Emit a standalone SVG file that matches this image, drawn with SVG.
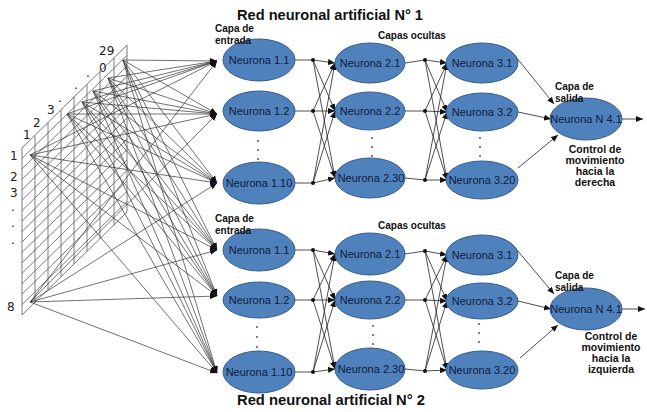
<svg xmlns="http://www.w3.org/2000/svg" width="647" height="412" viewBox="0 0 647 412">
<style>
.bg{fill:#ffffff}
.grid line{stroke:#5a5a5a;stroke-width:0.8}
.in{stroke:#333;stroke-width:0.7;fill:none}
.c{stroke:#222;stroke-width:0.8;fill:none}
.node ellipse{fill:#4F81BD;stroke:#385D8A;stroke-width:1}
.lbl{font-family:"Liberation Sans",Arial,sans-serif;font-size:11px;fill:#0f1c3a;text-anchor:middle}
.title{font-family:"Liberation Sans",Arial,sans-serif;font-size:14px;font-weight:bold;fill:#111}
.cap{font-family:"Liberation Sans",Arial,sans-serif;font-size:10px;font-weight:bold;fill:#111}
.ctl{font-family:"Liberation Sans",Arial,sans-serif;font-size:10.5px;font-weight:bold;fill:#111;text-anchor:middle}
.num{font-family:"DejaVu Sans",sans-serif;font-size:12px;fill:#222}
.dot{fill:#111}
.vd{fill:#444}
</style>
<defs>
<marker id="ah" markerUnits="userSpaceOnUse" markerWidth="7" markerHeight="6" refX="7" refY="3" orient="auto">
<path d="M0,0 L7,3 L0,6 z" fill="#111"/>
</marker>
</defs>
<rect class="bg" x="0" y="0" width="647" height="412"/>

<g id="input-grid" class="grid">
<line x1="22" y1="148" x2="22" y2="315"/>
<line x1="35" y1="135.3" x2="35" y2="302.3"/>
<line x1="48" y1="122.5" x2="48" y2="289.5"/>
<line x1="61" y1="109.8" x2="61" y2="276.8"/>
<line x1="74" y1="97" x2="74" y2="264"/>
<line x1="87" y1="84.3" x2="87" y2="251.3"/>
<line x1="100" y1="71.6" x2="100" y2="238.6"/>
<line x1="114" y1="57.8" x2="114" y2="224.8"/>
<line x1="127" y1="45.1" x2="127" y2="212.1"/>
<line x1="22" y1="148" x2="127" y2="45.1"/>
<line x1="22" y1="158.4" x2="127" y2="55.5"/>
<line x1="22" y1="168.9" x2="127" y2="66"/>
<line x1="22" y1="179.3" x2="127" y2="76.4"/>
<line x1="22" y1="189.8" x2="127" y2="86.9"/>
<line x1="22" y1="200.2" x2="127" y2="97.3"/>
<line x1="22" y1="210.6" x2="127" y2="107.7"/>
<line x1="22" y1="221.1" x2="127" y2="118.2"/>
<line x1="22" y1="231.5" x2="127" y2="128.6"/>
<line x1="22" y1="242" x2="127" y2="139.1"/>
<line x1="22" y1="252.4" x2="127" y2="149.5"/>
<line x1="22" y1="262.8" x2="127" y2="159.9"/>
<line x1="22" y1="273.3" x2="127" y2="170.4"/>
<line x1="22" y1="283.7" x2="127" y2="180.8"/>
<line x1="22" y1="294.2" x2="127" y2="191.3"/>
<line x1="22" y1="304.6" x2="127" y2="201.7"/>
<line x1="22" y1="315" x2="127" y2="212.1"/>
</g>

<g id="input-labels">
<text class="num" x="23" y="139">1</text>
<text class="num" x="33" y="127">2</text>
<text class="num" x="47" y="114">3</text>
<text class="num" x="58" y="102">.</text>
<text class="num" x="74" y="89">.</text>
<text class="num" x="86" y="77">.</text>
<text class="num" x="99" y="55">29</text>
<text class="num" x="99" y="72">0</text>
<text class="num" x="10" y="160">1</text>
<text class="num" x="10" y="181">2</text>
<text class="num" x="10" y="197">3</text>
<text class="num" x="11" y="211">.</text>
<text class="num" x="11" y="227">.</text>
<text class="num" x="11" y="244">.</text>
<text class="num" x="7" y="311">8</text>
</g>

<g id="connectors">
<g marker-end="url(#ah)">
<line class="in" x1="30" y1="155" x2="217" y2="61"/>
<line class="in" x1="30" y1="155" x2="217" y2="114"/>
<line class="in" x1="30" y1="155" x2="217" y2="183"/>
<line class="in" x1="30" y1="155" x2="217" y2="250"/>
<line class="in" x1="30" y1="155" x2="217" y2="296"/>
<line class="in" x1="30" y1="155" x2="217" y2="373"/>
<line class="in" x1="30" y1="302" x2="217" y2="61"/>
<line class="in" x1="30" y1="302" x2="217" y2="114"/>
<line class="in" x1="30" y1="302" x2="217" y2="183"/>
<line class="in" x1="30" y1="302" x2="217" y2="250"/>
<line class="in" x1="30" y1="302" x2="217" y2="296"/>
<line class="in" x1="30" y1="302" x2="217" y2="373"/>
<line class="in" x1="67" y1="114" x2="217" y2="61"/>
<line class="in" x1="67" y1="114" x2="217" y2="114"/>
<line class="in" x1="67" y1="114" x2="217" y2="183"/>
<line class="in" x1="67" y1="114" x2="217" y2="250"/>
<line class="in" x1="67" y1="114" x2="217" y2="296"/>
<line class="in" x1="67" y1="114" x2="217" y2="373"/>
<line class="in" x1="82" y1="102" x2="217" y2="61"/>
<line class="in" x1="82" y1="102" x2="217" y2="114"/>
<line class="in" x1="82" y1="102" x2="217" y2="183"/>
<line class="in" x1="82" y1="102" x2="217" y2="250"/>
<line class="in" x1="82" y1="102" x2="217" y2="296"/>
<line class="in" x1="82" y1="102" x2="217" y2="373"/>
<line class="in" x1="93" y1="91" x2="217" y2="61"/>
<line class="in" x1="93" y1="91" x2="217" y2="114"/>
<line class="in" x1="93" y1="91" x2="217" y2="183"/>
<line class="in" x1="93" y1="91" x2="217" y2="250"/>
<line class="in" x1="93" y1="91" x2="217" y2="296"/>
<line class="in" x1="93" y1="91" x2="217" y2="373"/>
<line class="in" x1="108" y1="78" x2="217" y2="61"/>
<line class="in" x1="108" y1="78" x2="217" y2="114"/>
<line class="in" x1="108" y1="78" x2="217" y2="183"/>
<line class="in" x1="108" y1="78" x2="217" y2="250"/>
<line class="in" x1="108" y1="78" x2="217" y2="296"/>
<line class="in" x1="108" y1="78" x2="217" y2="373"/>
<line class="in" x1="123" y1="60" x2="217" y2="61"/>
<line class="in" x1="123" y1="60" x2="217" y2="114"/>
<line class="in" x1="123" y1="60" x2="217" y2="183"/>
<line class="in" x1="123" y1="60" x2="217" y2="250"/>
<line class="in" x1="123" y1="60" x2="217" y2="296"/>
<line class="in" x1="123" y1="60" x2="217" y2="373"/>
</g>

<line class="c" x1="295" y1="60" x2="313" y2="60"/>
<line class="c" x1="295" y1="111" x2="313" y2="111"/>
<line class="c" x1="295" y1="183" x2="313" y2="183"/>
<g marker-end="url(#ah)">
<line class="c" x1="313" y1="60" x2="335" y2="63"/>
<line class="c" x1="313" y1="60" x2="335" y2="111"/>
<line class="c" x1="313" y1="60" x2="335" y2="178"/>
<line class="c" x1="313" y1="111" x2="335" y2="63"/>
<line class="c" x1="313" y1="111" x2="335" y2="111"/>
<line class="c" x1="313" y1="111" x2="335" y2="178"/>
<line class="c" x1="313" y1="183" x2="335" y2="63"/>
<line class="c" x1="313" y1="183" x2="335" y2="111"/>
<line class="c" x1="313" y1="183" x2="335" y2="178"/>
</g>
<line class="c" x1="405" y1="63" x2="425" y2="60"/>
<line class="c" x1="405" y1="111" x2="425" y2="111"/>
<line class="c" x1="405" y1="178" x2="425" y2="180"/>
<g marker-end="url(#ah)">
<line class="c" x1="425" y1="60" x2="447" y2="63"/>
<line class="c" x1="425" y1="60" x2="447" y2="112"/>
<line class="c" x1="425" y1="60" x2="447" y2="180"/>
<line class="c" x1="425" y1="111" x2="447" y2="63"/>
<line class="c" x1="425" y1="111" x2="447" y2="112"/>
<line class="c" x1="425" y1="111" x2="447" y2="180"/>
<line class="c" x1="425" y1="180" x2="447" y2="63"/>
<line class="c" x1="425" y1="180" x2="447" y2="112"/>
<line class="c" x1="425" y1="180" x2="447" y2="180"/>
</g>
<g marker-end="url(#ah)">
<line class="c" x1="512" y1="52" x2="554" y2="104"/>
<line class="c" x1="518" y1="112" x2="551" y2="119"/>
<line class="c" x1="518" y1="168" x2="558" y2="135"/>
<line class="c" x1="622" y1="119" x2="643" y2="119"/>
</g>

<line class="c" x1="295" y1="250" x2="313" y2="250"/>
<line class="c" x1="295" y1="300" x2="313" y2="300"/>
<line class="c" x1="295" y1="372" x2="313" y2="372"/>
<g marker-end="url(#ah)">
<line class="c" x1="313" y1="250" x2="335" y2="254"/>
<line class="c" x1="313" y1="250" x2="335" y2="300"/>
<line class="c" x1="313" y1="250" x2="335" y2="369"/>
<line class="c" x1="313" y1="300" x2="335" y2="254"/>
<line class="c" x1="313" y1="300" x2="335" y2="300"/>
<line class="c" x1="313" y1="300" x2="335" y2="369"/>
<line class="c" x1="313" y1="372" x2="335" y2="254"/>
<line class="c" x1="313" y1="372" x2="335" y2="300"/>
<line class="c" x1="313" y1="372" x2="335" y2="369"/>
</g>
<line class="c" x1="405" y1="254" x2="425" y2="251"/>
<line class="c" x1="405" y1="300" x2="425" y2="300"/>
<line class="c" x1="405" y1="369" x2="425" y2="371"/>
<g marker-end="url(#ah)">
<line class="c" x1="425" y1="251" x2="447" y2="255"/>
<line class="c" x1="425" y1="251" x2="447" y2="301"/>
<line class="c" x1="425" y1="251" x2="447" y2="370"/>
<line class="c" x1="425" y1="300" x2="447" y2="255"/>
<line class="c" x1="425" y1="300" x2="447" y2="301"/>
<line class="c" x1="425" y1="300" x2="447" y2="370"/>
<line class="c" x1="425" y1="371" x2="447" y2="255"/>
<line class="c" x1="425" y1="371" x2="447" y2="301"/>
<line class="c" x1="425" y1="371" x2="447" y2="370"/>
</g>
<g marker-end="url(#ah)">
<line class="c" x1="512" y1="244" x2="554" y2="294"/>
<line class="c" x1="518" y1="301" x2="551" y2="309"/>
<line class="c" x1="520" y1="358" x2="558" y2="325"/>
<line class="c" x1="622" y1="309" x2="645" y2="309"/>
</g>

<g class="dot">
<circle cx="313" cy="60" r="2"/><circle cx="313" cy="111" r="2"/><circle cx="313" cy="183" r="2"/>
<circle cx="425" cy="60" r="2"/><circle cx="425" cy="111" r="2"/><circle cx="425" cy="180" r="2"/>
<circle cx="313" cy="250" r="2"/><circle cx="313" cy="300" r="2"/><circle cx="313" cy="372" r="2"/>
<circle cx="425" cy="251" r="2"/><circle cx="425" cy="300" r="2"/><circle cx="425" cy="371" r="2"/>
</g>
</g>

<g id="n1-1-1" class="node"><ellipse cx="259" cy="60" rx="36" ry="21"/><text class="lbl" x="259" y="64">Neurona 1.1</text></g>
<g id="n1-1-2" class="node"><ellipse cx="259" cy="111" rx="36" ry="20"/><text class="lbl" x="259" y="115">Neurona 1.2</text></g>
<g id="n1-1-10" class="node"><ellipse cx="259" cy="183" rx="36" ry="21"/><text class="lbl" x="259" y="187">Neurona 1.10</text></g>
<g id="n1-2-1" class="node"><ellipse cx="370" cy="63" rx="35" ry="20"/><text class="lbl" x="370" y="67">Neurona 2.1</text></g>
<g id="n1-2-2" class="node"><ellipse cx="370" cy="111" rx="35" ry="19"/><text class="lbl" x="370" y="115">Neurona 2.2</text></g>
<g id="n1-2-30" class="node"><ellipse cx="370" cy="178" rx="35" ry="20"/><text class="lbl" x="371" y="182">Neurona 2.30</text></g>
<g id="n1-3-1" class="node"><ellipse cx="482" cy="63" rx="36" ry="20"/><text class="lbl" x="482" y="67">Neurona 3.1</text></g>
<g id="n1-3-2" class="node"><ellipse cx="482" cy="112" rx="36" ry="19"/><text class="lbl" x="482" y="116">Neurona 3.2</text></g>
<g id="n1-3-20" class="node"><ellipse cx="482" cy="180" rx="36" ry="19"/><text class="lbl" x="482" y="184">Neurona 3.20</text></g>
<g id="n1-4-1" class="node"><ellipse cx="586" cy="119" rx="36" ry="21"/><text class="lbl" x="586" y="123">Neurona N 4.1</text></g>

<g id="n2-1-1" class="node"><ellipse cx="259" cy="250" rx="36" ry="21"/><text class="lbl" x="259" y="254">Neurona 1.1</text></g>
<g id="n2-1-2" class="node"><ellipse cx="259" cy="300" rx="36" ry="18"/><text class="lbl" x="259" y="304">Neurona 1.2</text></g>
<g id="n2-1-10" class="node"><ellipse cx="259" cy="372" rx="36" ry="21"/><text class="lbl" x="259" y="376">Neurona 1.10</text></g>
<g id="n2-2-1" class="node"><ellipse cx="370" cy="254" rx="35" ry="21"/><text class="lbl" x="370" y="258">Neurona 2.1</text></g>
<g id="n2-2-2" class="node"><ellipse cx="370" cy="300" rx="35" ry="19"/><text class="lbl" x="370" y="304">Neurona 2.2</text></g>
<g id="n2-2-30" class="node"><ellipse cx="370" cy="369" rx="35" ry="21"/><text class="lbl" x="371" y="373">Neurona 2.30</text></g>
<g id="n2-3-1" class="node"><ellipse cx="482" cy="255" rx="36" ry="20"/><text class="lbl" x="482" y="259">Neurona 3.1</text></g>
<g id="n2-3-2" class="node"><ellipse cx="482" cy="301" rx="36" ry="18"/><text class="lbl" x="482" y="305">Neurona 3.2</text></g>
<g id="n2-3-20" class="node"><ellipse cx="482" cy="370" rx="36" ry="19"/><text class="lbl" x="482" y="374">Neurona 3.20</text></g>
<g id="n2-4-1" class="node"><ellipse cx="586" cy="309" rx="36" ry="21"/><text class="lbl" x="586" y="313">Neurona N 4.1</text></g>

<g class="vd">
<circle cx="258" cy="141" r="0.9"/><circle cx="258" cy="150" r="0.9"/><circle cx="258" cy="159" r="0.9"/>
<circle cx="372" cy="138" r="0.9"/><circle cx="372" cy="147" r="0.9"/><circle cx="372" cy="156" r="0.9"/>
<circle cx="480" cy="138" r="0.9"/><circle cx="480" cy="147" r="0.9"/><circle cx="480" cy="156" r="0.9"/>
<circle cx="257" cy="327" r="0.9"/><circle cx="257" cy="337" r="0.9"/><circle cx="257" cy="347" r="0.9"/>
<circle cx="373" cy="326" r="0.9"/><circle cx="373" cy="335" r="0.9"/><circle cx="373" cy="344" r="0.9"/>
<circle cx="479" cy="324" r="0.9"/><circle cx="479" cy="333" r="0.9"/><circle cx="479" cy="342" r="0.9"/>
</g>

<text class="title" x="237" y="20" textLength="186" lengthAdjust="spacingAndGlyphs">Red neuronal artificial N° 1</text>
<text class="title" x="237" y="405" textLength="188" lengthAdjust="spacingAndGlyphs">Red neuronal artificial N° 2</text>

<text class="cap" x="215" y="32">Capa de</text>
<text class="cap" x="215" y="43.5">entrada</text>
<text class="cap" x="378" y="39">Capas ocultas</text>
<text class="cap" x="555" y="90">Capa de</text>
<text class="cap" x="555" y="101.5">salida</text>
<text class="ctl" x="595" y="153">Control de</text>
<text class="ctl" x="595" y="164">movimiento</text>
<text class="ctl" x="595" y="175">hacia la</text>
<text class="ctl" x="595" y="186">derecha</text>

<text class="cap" x="215" y="222">Capa de</text>
<text class="cap" x="215" y="233.5">entrada</text>
<text class="cap" x="378" y="229">Capas ocultas</text>
<text class="cap" x="555" y="279">Capa de</text>
<text class="cap" x="555" y="290.5">salida</text>
<text class="ctl" x="611" y="340">Control de</text>
<text class="ctl" x="611" y="351">movimiento</text>
<text class="ctl" x="611" y="362">hacia la</text>
<text class="ctl" x="611" y="373">izquierda</text>
</svg>
